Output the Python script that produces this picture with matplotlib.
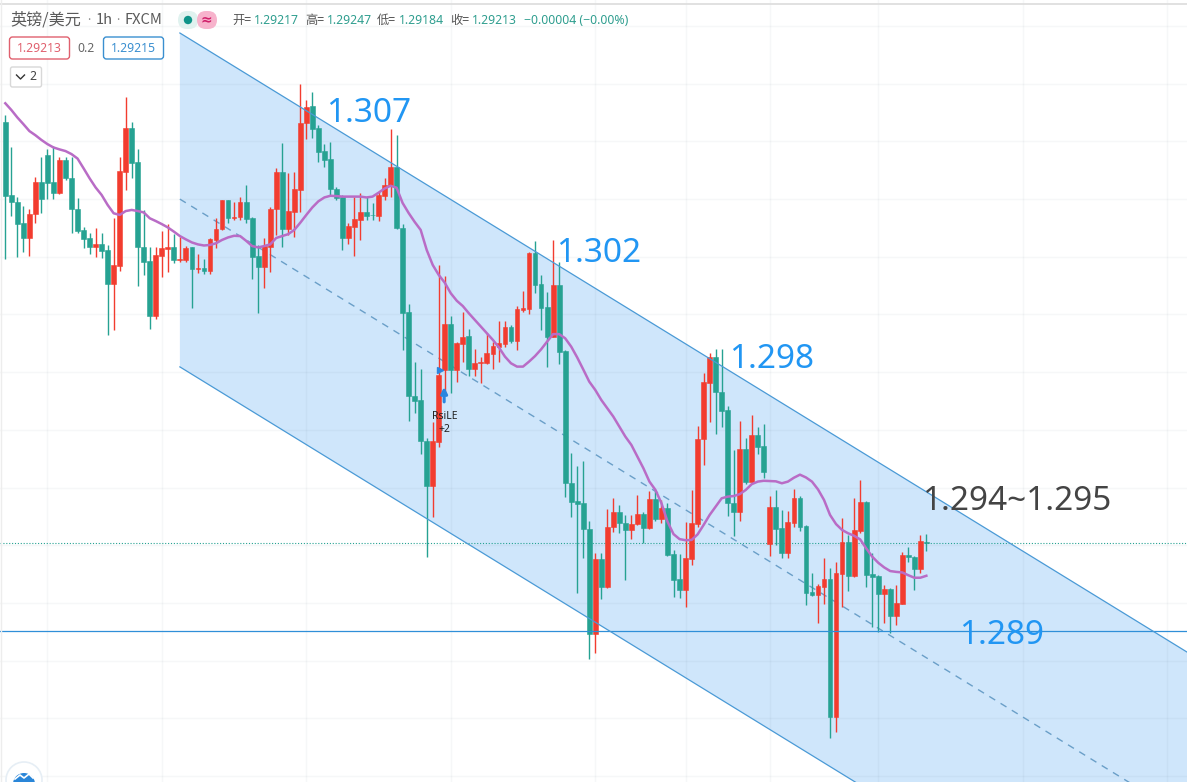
"""
GBP/USD 1h candles with a falling channel, moving average and hand-marked levels.
Prices are kept as points (0.00001) above 1.29000.
"""

import numpy as np
import matplotlib

matplotlib.use("Agg")
import matplotlib.pyplot as plt
from matplotlib.patches import Circle, FancyBboxPatch

plt.rcParams["font.family"] = ["Noto Sans CJK SC", "DejaVu Sans"]

BASE_PRICE = 1.29

opens = [
    1729, 1466, 1439, 1364, 1312, 1396, 1513, 1610, 1513, 1474,
    1592, 1526, 1414, 1340, 1311, 1280, 1288, 1268, 1147, 1211,
    1550, 1706, 1583, 1280, 1228, 1031, 1247, 1273, 1277, 1233,
    1232, 1277, 1198, 1203, 1193, 1304, 1345, 1447, 1383, 1388,
    1441, 1383, 1246, 1208, 1280, 1414, 1548, 1345, 1406, 1484,
    1724, 1786, 1707, 1623, 1594, 1489, 1460, 1312, 1352, 1376,
    1405, 1395, 1390, 1462, 1498, 1566, 1347, 1045, 743, 727,
    581, 419, 578, 836, 1000, 836, 929, 958, 840, 860,
    860, 893, 920, 929, 991, 940, 1052, 1055, 1258, 1144,
    1061, 956, 1142, 904, 428, 364, 356, 262, -116, 154,
    56, 269, 323, 284, 260, 280, 317, 266, 370, 299,
    340, 173, 83, 44, 157, 281, 586, 790, 881, 757,
    692, 356, 326, 551, 431, 602, 562, 209, 342, 267,
    176, 284, 375, 273, 35, 26, 54, 83, -412, 101,
    217, 94, 255, 361, 100, 94, 29, 47, -50, -6,
    170, 163, 119, 217,
]
highs = [
    1754, 1640, 1460, 1426, 1414, 1532, 1604, 1630, 1643, 1604,
    1604, 1604, 1454, 1352, 1328, 1346, 1328, 1286, 1382, 1604,
    1817, 1730, 1630, 1412, 1280, 1280, 1336, 1360, 1324, 1316,
    1282, 1280, 1253, 1234, 1310, 1382, 1448, 1448, 1442, 1460,
    1501, 1388, 1286, 1310, 1424, 1562, 1652, 1544, 1550, 1865,
    1808, 1835, 1718, 1649, 1658, 1496, 1466, 1364, 1460, 1474,
    1460, 1436, 1478, 1526, 1702, 1682, 1360, 1073, 866, 838,
    590, 650, 1214, 1174, 1030, 938, 1043, 982, 910, 881,
    968, 938, 1012, 1013, 998, 1066, 1121, 1262, 1300, 1178,
    1115, 1304, 1226, 908, 536, 490, 509, 292, 178, 178,
    334, 376, 349, 314, 314, 386, 326, 401, 401, 368,
    356, 188, 173, 290, 404, 634, 826, 896, 910, 910,
    706, 548, 652, 590, 674, 632, 641, 382, 404, 332,
    328, 407, 382, 278, 104, 65, 158, 122, 146, 302,
    242, 374, 440, 363, 176, 98, 62, 50, 62, 181,
    200, 166, 242, 247,
]
lows = [
    1234, 1390, 1244, 1262, 1247, 1366, 1400, 1451, 1451, 1469,
    1520, 1330, 1328, 1276, 1253, 1244, 1238, 962, 980, 1193,
    1484, 1526, 1138, 1178, 982, 1018, 1169, 1190, 1222, 1226,
    1226, 1058, 1184, 1181, 1181, 1274, 1340, 1364, 1376, 1376,
    1366, 1162, 1040, 1130, 1190, 1322, 1277, 1322, 1316, 1406,
    1666, 1670, 1586, 1568, 1462, 1448, 1268, 1288, 1246, 1304,
    1376, 1376, 1373, 1448, 1460, 1342, 908, 653, 680, 532,
    164, 308, 557, 752, 752, 794, 866, 814, 814, 790,
    858, 838, 866, 917, 932, 908, 1046, 1037, 1114, 980,
    845, 953, 856, 380, 308, 34, 158, -206, -184, 10,
    51, 254, 248, 80, 226, 278, 214, 264, 293, 286,
    166, 17, 14, -16, 134, 272, 494, 650, 605, 632,
    310, 238, 292, 425, 428, 533, 446, 166, 206, 158,
    158, 272, 257, -12, 22, -76, -6, -488, -466, -16,
    41, 90, 250, 56, -90, -109, -74, -110, -82, -8,
    146, 44, 104, 184,
]
closes = [
    1463, 1439, 1363, 1312, 1396, 1513, 1452, 1510, 1474, 1592,
    1526, 1414, 1336, 1309, 1280, 1288, 1265, 1147, 1212, 1551,
    1706, 1582, 1280, 1226, 1031, 1248, 1274, 1277, 1232, 1235,
    1274, 1198, 1202, 1193, 1306, 1345, 1447, 1383, 1388, 1441,
    1379, 1244, 1208, 1282, 1415, 1548, 1345, 1408, 1486, 1724,
    1784, 1703, 1621, 1592, 1487, 1456, 1312, 1354, 1378, 1405,
    1390, 1393, 1466, 1501, 1566, 1348, 1042, 743, 725, 581,
    419, 580, 818, 1000, 836, 932, 956, 839, 860, 865,
    896, 922, 932, 991, 940, 1055, 1059, 1258, 1142, 1060,
    956, 1142, 902, 428, 362, 355, 262, -116, 154, 56,
    269, 323, 284, 260, 281, 317, 266, 370, 299, 338,
    170, 80, 44, 159, 284, 587, 791, 881, 755, 689,
    356, 326, 551, 431, 602, 560, 469, 342, 263, 176,
    289, 375, 272, 34, 27, 58, 83, -412, 105, 217,
    94, 260, 361, 98, 92, 29, 47, -50, -3, 170,
    161, 119, 220, 213,
]
moving_avg = [
    1796, 1772, 1745, 1721, 1696, 1681, 1664, 1649, 1637, 1630,
    1624, 1613, 1597, 1562, 1526, 1493, 1466, 1430, 1400, 1394,
    1408, 1412, 1408, 1403, 1382, 1372, 1361, 1349, 1334, 1318,
    1306, 1295, 1288, 1284, 1286, 1292, 1304, 1313, 1319, 1318,
    1301, 1282, 1277, 1282, 1288, 1311, 1318, 1325, 1340, 1366,
    1394, 1421, 1443, 1457, 1463, 1462, 1460, 1460, 1460, 1460,
    1457, 1460, 1474, 1489, 1499, 1492, 1437, 1401, 1369, 1340,
    1268, 1214, 1178, 1150, 1112, 1085, 1066, 1040, 1016, 992,
    968, 944, 917, 884, 860, 848, 848, 866, 886, 910,
    938, 965, 965, 950, 920, 881, 838, 794, 764, 728,
    698, 668, 632, 596, 566, 524, 482, 434, 404, 356,
    290, 245, 227, 223, 224, 244, 278, 314, 344, 374,
    380, 382, 389, 404, 425, 434, 437, 436, 435, 428,
    434, 448, 459, 449, 434, 406, 368, 314, 281, 260,
    248, 239, 226, 194, 164, 142, 125, 112, 109, 107,
    97, 88, 88, 95,
]

channel_bars = [29, 197]
channel_upper = [2049, -189]
channel_middle = [1451, -786]
channel_lower = [847, -1391]

support_level = -104
last_close = 213
grid_levels = [-626, -418, -211, -3, 205, 412, 620, 828, 1036, 1243, 1451, 1659, 1867, 2074]
grid_bars = [6.9, 26, 50, 74, 98, 113, 127, 145, 169, 193]

signal_bar = 73

level_labels = ["1.307", "1.302", "1.298", "1.294~1.295", "1.289"]
header_labels = ["开=", "1.29217", "高=", "1.29247", "低=", "1.29184", "收=", "1.29213", "−0.00004 (−0.00%)"]


def to_price(points):
    return BASE_PRICE + np.asarray(points, dtype=float) / 1e5


GREEN = "#26a292"
RED = "#f23c2f"
BLUE_LINE = "#4a9ad6"
BLUE_TEXT = "#2196f3"

fig = plt.figure(figsize=(11.87, 7.82), dpi=100, facecolor="white")
ax = fig.add_axes([0, 0, 1, 1])
ax.set_axis_off()
ax.set_xlim(-5.3 / 6.02, 1181.7 / 6.02)
ax.set_ylim(BASE_PRICE - 647.4 / 1e5, BASE_PRICE + 2167.8 / 1e5)

bars = np.arange(len(closes))
o, h, l, c = to_price(opens), to_price(highs), to_price(lows), to_price(closes)
up = c >= o
colors = np.where(up, RED, GREEN)

# --- channel ---
ax.fill_between(channel_bars, to_price(channel_lower), to_price(channel_upper),
                color="#cfe6fb", linewidth=0, zorder=1)
ax.plot(channel_bars, to_price(channel_upper), color=BLUE_LINE, lw=0.9, zorder=5)
ax.plot(channel_bars, to_price(channel_lower), color=BLUE_LINE, lw=0.9, zorder=5)
ax.plot(channel_bars, to_price(channel_middle), color="#6a9fc8", lw=1.0,
        dashes=(5, 4.5), zorder=2)

# --- grid ---
for level in grid_levels:
    ax.axhline(to_price(level), color="#506478", alpha=0.05, lw=1, zorder=1.5)
for bar in grid_bars:
    ax.axvline(bar, color="#506478", alpha=0.05, lw=1, zorder=1.5)

# --- candles ---
ax.axhline(to_price(last_close), color=GREEN, lw=0.8, ls=(0, (1, 1.6)), zorder=2.5)
ax.vlines(bars, l, h, colors=colors, lw=1.0, zorder=3)
ax.bar(bars, np.abs(c - o), bottom=np.minimum(o, c), width=0.8, color=colors,
       edgecolor=colors, linewidth=0.4, zorder=3.2)
ax.plot(bars, to_price(moving_avg), color="#b96cc6", lw=1.8, solid_joinstyle="round", zorder=4)
ax.axhline(to_price(support_level), color="#2f8fd8", lw=0.9, zorder=4.5)

# --- RsiLE marker ---
ax.plot(signal_bar - 0.8, to_price(836), marker=">", color="#2a86e0", ms=5, zorder=6)
ax.annotate("", xy=(signal_bar - 0.1, to_price(775)), xytext=(signal_bar - 0.1, to_price(721)),
            arrowprops=dict(arrowstyle="-|>", color="#2a86e0", lw=2.2, mutation_scale=9,
                            shrinkA=0, shrinkB=0), zorder=6)
ax.text(signal_bar, to_price(670), "RsiLE", color="#222222", fontsize=7.5,
        ha="center", va="center", family=["Noto Sans", "DejaVu Sans"], zorder=6)
ax.text(signal_bar, to_price(620), "+2", color="#222222", fontsize=7.5,
        ha="center", va="center", family=["Noto Sans", "DejaVu Sans"], zorder=6)

# --- overlay in screen pixels for the chart header ---
ui = fig.add_axes([0, 0, 1, 1], facecolor="none")
ui.set_axis_off()
ui.set_xlim(0, 1187)
ui.set_ylim(782, 0)

ui.axhline(3.5, color="#dcdcdc", lw=1.2)
ui.axvline(0.8, color="#ededed", lw=1)

label_font = ["Noto Sans", "DejaVu Sans"]
label_pos = [(326, 110, BLUE_TEXT), (556, 250, BLUE_TEXT), (729, 355, BLUE_TEXT),
             (922, 497, "#444444"), (959, 632, BLUE_TEXT)]
for text, (x, y, col) in zip(level_labels, label_pos):
    ui.text(x, y, text, fontsize=24, color=col, ha="left", va="center_baseline", family=label_font)

title_parts = [("英镑/美元", 10, 11.6), ("1h", 96, 10.6), ("FXCM", 124, 10.6)]
for text, x, size in title_parts:
    ui.text(x, 20, text, fontsize=size, color="#5a5a5a", va="center")
for x in [88.5, 118]:
    ui.text(x, 20, "·", fontsize=9, color="#8a8a8a", ha="center", va="center", family=label_font)

ui.add_patch(FancyBboxPatch((178, 11), 20, 18, boxstyle="round,pad=0,rounding_size=9",
                            fc="#e0f2ef", ec="none"))
ui.add_patch(FancyBboxPatch((197, 11), 20, 18, boxstyle="round,pad=0,rounding_size=9",
                            fc="#f7b3cc", ec="none"))
ui.add_patch(Circle((188, 20), 4.2, fc="#0d9488", ec="none"))
ui.text(206.5, 19.5, "≈", fontsize=10, color="#d0206a", ha="center", va="center", weight="bold",
        family=["DejaVu Sans"])

header_x = [232, 254, 305, 327, 377, 399, 450, 472, 524]
for i, (text, x) in enumerate(zip(header_labels, header_x)):
    is_name = i < 8 and i % 2 == 0
    ui.text(x, 20.5, text, fontsize=8.8, color="#555555" if is_name else "#2f9e8f", va="center",
            family=label_font if not is_name else ["Noto Sans CJK SC", "DejaVu Sans"])

ui.add_patch(FancyBboxPatch((9.5, 37), 60, 22, boxstyle="round,pad=0,rounding_size=3",
                            fc="white", ec="#e0606e", lw=1))
ui.text(39.5, 48, "1.29213", fontsize=8.8, color="#e0606e", ha="center", va="center", family=label_font)
ui.text(86.5, 48, "0.2", fontsize=8.8, color="#666666", ha="center", va="center", family=label_font)
ui.add_patch(FancyBboxPatch((103.5, 37), 60, 22, boxstyle="round,pad=0,rounding_size=3",
                            fc="white", ec="#3a8fd0", lw=1))
ui.text(133.5, 48, "1.29215", fontsize=8.8, color="#3a8fd0", ha="center", va="center", family=label_font)
ui.add_patch(FancyBboxPatch((10.5, 67), 31, 20, boxstyle="round,pad=0,rounding_size=2",
                            fc="white", ec="#d8d8d8", lw=1))
ui.plot([16.5, 20.5, 24.5], [75, 79, 75], color="#333333", lw=1)
ui.text(33, 76.5, "2", fontsize=8.8, color="#444444", ha="center", va="center", family=label_font)

# logo cut off by the bottom edge
ui.add_patch(Circle((24, 780), 18, fc="white", ec="#e6eef5", lw=1.2, zorder=7))
ui.add_patch(Circle((24, 784), 11, fc="#2a86d8", ec="none", zorder=8))
ui.plot([15, 20, 24, 29, 33], [779, 775, 778, 774, 778], color="white", lw=1.2, zorder=9)

fig.savefig("out.png", dpi=100)
